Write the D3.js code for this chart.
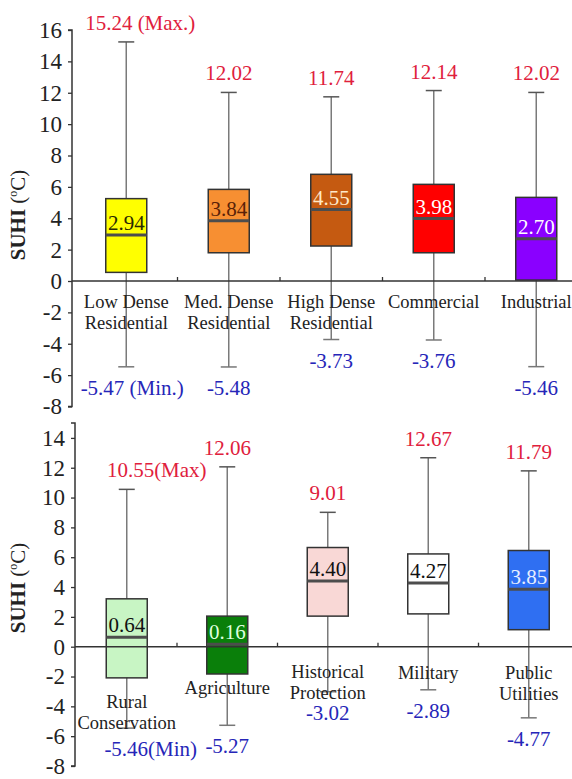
<!DOCTYPE html>
<html>
<head>
<meta charset="utf-8">
<script src="https://cdn.jsdelivr.net/npm/d3@7"></script>
<style>
  html, body { margin: 0; padding: 0; background: #fff; }
  svg, svg text { font-family: "Liberation Serif", Tinos, "Times New Roman", Times, "Noto Serif", "DejaVu Serif", serif; }
</style>
</head>
<body>
<svg id="chart" width="572" height="779"></svg>
<script>
// ---------- data: top panel ----------
const catsTop = [["Low Dense", "Residential"], ["Med. Dense", "Residential"], ["High Dense", "Residential"], ["Commercial"], ["Industrial"]];
const minTop = [-5.47, -5.48, -3.73, -3.76, -5.46];
const q1Top  = [0.55, 1.80, 2.23, 1.80, 0.06];
const medTop = [2.94, 3.84, 4.55, 3.98, 2.70];
const q3Top  = [5.25, 5.84, 6.80, 6.16, 5.33];
const maxTop = [15.24, 12.02, 11.74, 12.14, 12.02];
const maxSuffixTop = [" (Max.)", "", "", "", ""];
const minSuffixTop = [" (Min.)", "", "", "", ""];
const ticksTop = [16, 14, 12, 10, 8, 6, 4, 2, 0, -2, -4, -6, -8];

// ---------- data: bottom panel ----------
const catsBot = [["Rural", "Conservation"], ["Agriculture"], ["Historical", "Protection"], ["Military"], ["Public", "Utilities"]];
const minBot = [-5.46, -5.27, -3.02, -2.89, -4.77];
const q1Bot  = [-2.09, -1.83, 2.05, 2.20, 1.14];
const medBot = [0.64, 0.16, 4.40, 4.27, 3.85];
const q3Bot  = [3.21, 2.05, 6.65, 6.22, 6.45];
const maxBot = [10.55, 12.06, 9.01, 12.67, 11.79];
const maxSuffixBot = ["(Max)", "", "", "", ""];
const minSuffixBot = ["(Min)", "", "", "", ""];
const ticksBot = [14, 12, 10, 8, 6, 4, 2, 0, -2, -4, -6, -8];

// ---------- styles ----------
const fillTop = ["#ffff00", "#f78f32", "#c55a11", "#ff0000", "#8a00ff"];
const medTextTop = ["#2a2a00", "#5a2208", "#ffe9c8", "#ffffff", "#ffffff"];
const fillBot = ["#c8f5c4", "#0a7f0a", "#f9d8d6", "#ffffff", "#2f6ff2"];
const medTextBot = ["#111111", "#dfffdf", "#111111", "#111111", "#e6eeff"];

const FONT = '"Liberation Serif", Tinos, "Times New Roman", Times, "Noto Serif", "DejaVu Serif", serif';
const svg = d3.select("#chart").attr("font-family", FONT);
const W = 572;

function panel(cfg) {
  const g = svg.append("g").attr("font-family", FONT);
  const y = d3.scaleLinear().domain(cfg.yDomain).range(cfg.yRange);
  const x = d3.scaleBand().domain(d3.range(cfg.cats.length)).range(cfg.xRange).paddingInner(0).paddingOuter(0);
  const cx = i => x(i) + x.bandwidth() / 2;
  const bw = 41, capW = 16;

  // y axis
  const yAxis = d3.axisLeft(y).tickValues(cfg.ticks).tickSize(4).tickPadding(6).tickFormat(d3.format("d"));
  const ya = g.append("g").attr("transform", `translate(${cfg.axisX},0)`).call(yAxis);
  ya.attr("font-family", FONT);
  ya.select(".domain").attr("stroke", "#333").attr("stroke-width", 1.5).attr("d", `M-4,${y(cfg.yDomain[1])}H0V${y(cfg.yDomain[0])}H-4`);
  ya.selectAll(".tick line").attr("stroke", "#333").attr("stroke-width", 1.3);
  ya.selectAll(".tick text").attr("font-size", 23).attr("fill", "#222")
    .attr("font-family", FONT).text(d => d < 0 ? "-" + Math.abs(d) : d);

  // y title
  const tt = g.append("text")
    .attr("transform", `translate(${cfg.titleX},${cfg.titleY}) rotate(-90)`)
    .attr("text-anchor", "middle").attr("font-size", 21).attr("fill", "#222");
  tt.append("tspan").attr("font-weight", "bold").text("SUHI ");
  tt.append("tspan").text("(");
  tt.append("tspan").attr("font-size", 12).attr("dy", -8).text("o");
  tt.append("tspan").attr("dy", 8).text("C)");

  const idx = d3.range(cfg.cats.length);

  // whiskers
  g.selectAll(".wh").data(idx).join("line")
    .attr("x1", cx).attr("x2", cx)
    .attr("y1", i => y(cfg.max[i])).attr("y2", i => y(cfg.min[i]))
    .attr("stroke", "#7a7a7a").attr("stroke-width", 1.5);
  g.selectAll(".capmax").data(idx).join("line")
    .attr("x1", i => cx(i) - capW / 2).attr("x2", i => cx(i) + capW / 2)
    .attr("y1", i => y(cfg.max[i])).attr("y2", i => y(cfg.max[i]))
    .attr("stroke", "#555").attr("stroke-width", 1.5);
  g.selectAll(".capmin").data(idx).join("line")
    .attr("x1", i => cx(i) - capW / 2).attr("x2", i => cx(i) + capW / 2)
    .attr("y1", i => y(cfg.min[i])).attr("y2", i => y(cfg.min[i]))
    .attr("stroke", "#777").attr("stroke-width", 1.5);

  // boxes
  g.selectAll(".box").data(idx).join("rect")
    .attr("x", i => cx(i) - bw / 2).attr("width", bw)
    .attr("y", i => y(cfg.q3[i])).attr("height", i => y(cfg.q1[i]) - y(cfg.q3[i]))
    .attr("fill", i => cfg.fill[i]).attr("stroke", "#333").attr("stroke-width", 1.5);
  g.selectAll(".med").data(idx).join("line")
    .attr("x1", i => cx(i) - bw / 2).attr("x2", i => cx(i) + bw / 2)
    .attr("y1", i => y(cfg.med[i])).attr("y2", i => y(cfg.med[i]))
    .attr("stroke", "#4d4d4d").attr("stroke-width", 3);

  // x axis line with band ticks
  g.append("line").attr("x1", cfg.axisX).attr("x2", W)
    .attr("y1", y(0)).attr("y2", y(0)).attr("stroke", "#333").attr("stroke-width", 1.5);
  g.selectAll(".xt").data(idx.slice(1)).join("line")
    .attr("x1", i => x(i)).attr("x2", i => x(i))
    .attr("y1", y(0)).attr("y2", y(0) - 4)
    .attr("stroke", "#333").attr("stroke-width", 1.3);

  // median labels
  g.selectAll(".mt").data(idx).join("text")
    .attr("x", cx).attr("y", i => y(cfg.med[i]) - 5)
    .attr("text-anchor", "middle").attr("font-size", 21)
    .attr("fill", i => cfg.medText[i]).text(i => cfg.med[i].toFixed(2));

  // category labels
  g.selectAll(".cat").data(idx).join("text")
    .attr("x", cx).attr("y", i => cfg.catY[i])
    .attr("text-anchor", "middle").attr("font-size", 18.5).attr("fill", "#222")
    .each(function (i) {
      d3.select(this).selectAll("tspan").data(cfg.cats[i]).join("tspan")
        .attr("x", cx(i)).attr("dy", (d, k) => k === 0 ? 0 : 21).text(d => d);
    });

  // max labels
  g.selectAll(".mx").data(idx).join("text")
    .attr("x", i => cfg.maxSuffix[i] ? cx(i) + cfg.maxShift : cx(i))
    .attr("y", i => y(cfg.max[i]) - 12)
    .attr("text-anchor", "middle").attr("font-size", 21).attr("fill", "#e0203c")
    .text(i => cfg.max[i].toFixed(2) + cfg.maxSuffix[i]);

  // min labels
  g.selectAll(".mn").data(idx).join("text")
    .attr("x", i => cfg.minSuffix[i] ? cx(i) + cfg.minShift : cx(i))
    .attr("y", i => y(cfg.min[i]) + 28)
    .attr("text-anchor", "middle").attr("font-size", 21).attr("fill", "#2626b8")
    .text(i => "-" + Math.abs(cfg.min[i]).toFixed(2) + cfg.minSuffix[i]);
}

panel({
  cats: catsTop, min: minTop, q1: q1Top, med: medTop, q3: q3Top, max: maxTop,
  maxSuffix: maxSuffixTop, minSuffix: minSuffixTop, ticks: ticksTop,
  fill: fillTop, medText: medTextTop,
  yDomain: [-8, 16], yRange: [406.5, 30], xRange: [75, 587.5], axisX: 72,
  titleX: 25, titleY: 215, maxShift: 14, minShift: 6,
  catY: [308, 308, 308, 308, 308]
});

panel({
  cats: catsBot, min: minBot, q1: q1Bot, med: medBot, q3: q3Bot, max: maxBot,
  maxSuffix: maxSuffixBot, minSuffix: minSuffixBot, ticks: ticksBot,
  fill: fillBot, medText: medTextBot,
  yDomain: [-8, 15], yRange: [766, 423], xRange: [76.5, 579], axisX: 75,
  titleX: 25, titleY: 588, maxShift: 30, minShift: 24,
  catY: [708, 694, 678, 679, 679]
});
</script>
</body>
</html>
